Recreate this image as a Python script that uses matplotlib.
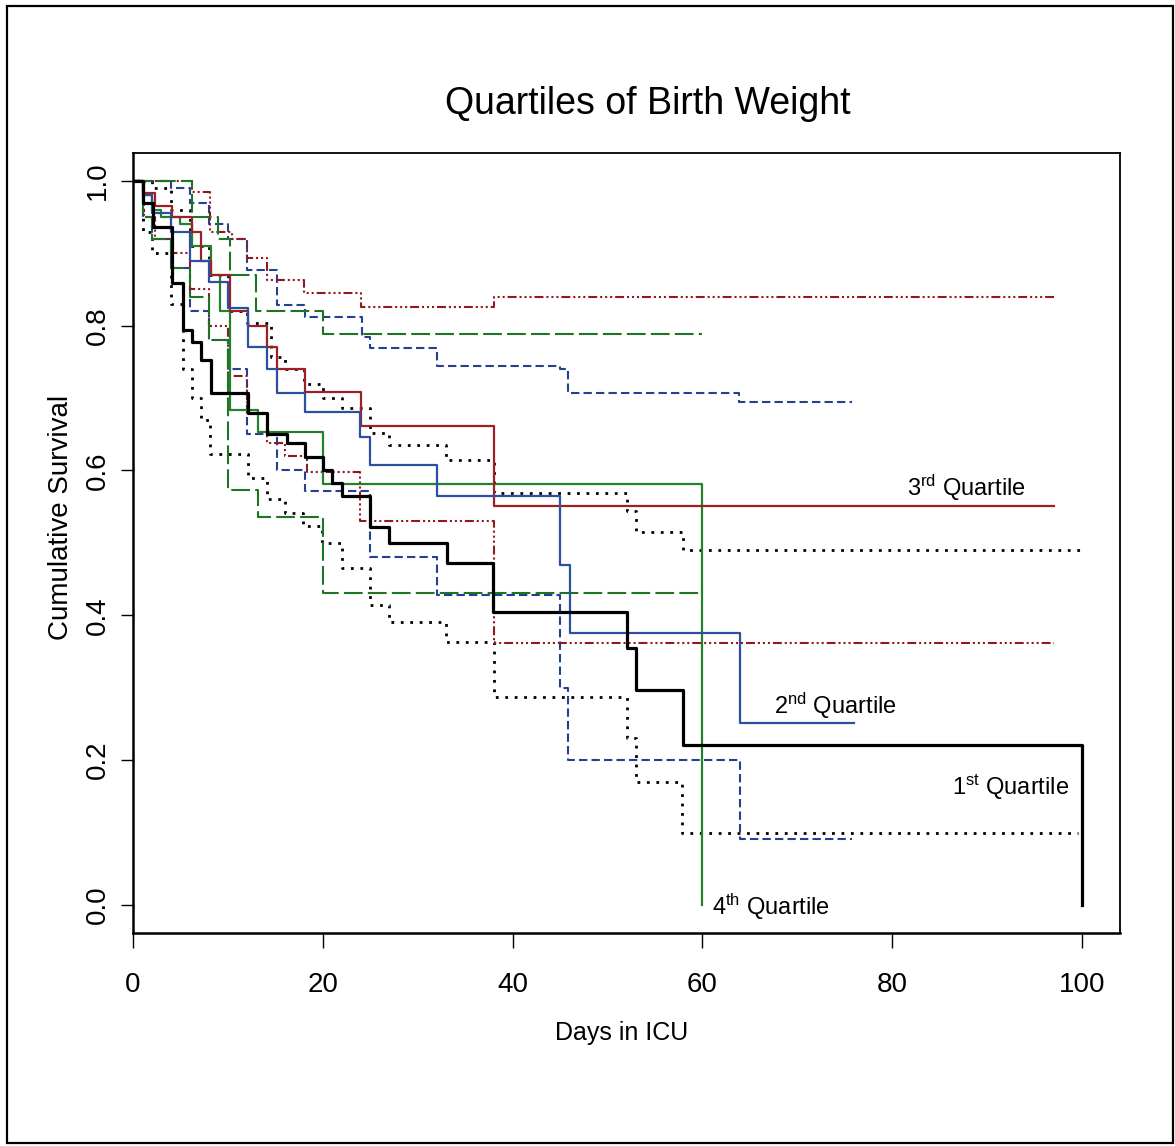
import matplotlib
matplotlib.use("Agg")
import matplotlib.pyplot as plt
from matplotlib.patches import Rectangle

plt.rcParams['font.family'] = ['Liberation Sans', 'DejaVu Sans']
plt.rcParams['mathtext.fontset'] = 'custom'
plt.rcParams['mathtext.rm'] = 'Liberation Sans'
plt.rcParams['mathtext.it'] = 'Liberation Sans'
plt.rcParams['mathtext.bf'] = 'Liberation Sans'

# ---------------- data ----------------
# 1st quartile (black)
q1_t = [0, 1, 2.1, 4.1, 5.3, 6.2, 7.2, 8.2, 12.1, 14.1, 16.2, 18.1, 20, 21, 22, 25, 27, 33.1, 37.9, 52, 53, 58, 100]
q1_s = [1.0, 0.97, 0.936, 0.859, 0.794, 0.778, 0.753, 0.707, 0.68, 0.651, 0.638, 0.619, 0.601, 0.583, 0.565, 0.522, 0.5, 0.472, 0.405, 0.355, 0.296, 0.22, 0.0]
q1_up_t = [0, 2, 4, 6, 8, 10, 12, 14.5, 16, 18, 20, 22, 25, 27, 33, 38, 52, 53, 58, 100]
q1_up_s = [1.0, 0.99, 0.96, 0.91, 0.87, 0.82, 0.804, 0.757, 0.74, 0.72, 0.70, 0.686, 0.652, 0.635, 0.615, 0.569, 0.544, 0.515, 0.49, 0.49]
q1_lo_t = [0, 1, 2, 4, 5.3, 6.2, 7.2, 8.1, 12.1, 14.1, 16, 17.9, 19.9, 22, 25, 27, 33, 38, 52, 53, 57.8, 99.6]
q1_lo_s = [1.0, 0.93, 0.90, 0.83, 0.74, 0.70, 0.67, 0.622, 0.59, 0.56, 0.541, 0.523, 0.50, 0.465, 0.414, 0.391, 0.363, 0.287, 0.23, 0.17, 0.099, 0.099]

# 2nd quartile (blue)
q2_t = [0, 1, 2, 4, 6, 8, 10, 12.1, 14.1, 15.2, 18.1, 23.9, 25, 32, 45, 46, 64, 76]
q2_s = [1.0, 0.98, 0.955, 0.93, 0.89, 0.86, 0.825, 0.77, 0.74, 0.707, 0.681, 0.646, 0.608, 0.564, 0.47, 0.376, 0.251, 0.251]
q2_up_t = [0, 4, 6, 8, 10, 12, 15.2, 18.1, 24.1, 25, 32, 45, 45.8, 63.9, 75.8]
q2_up_s = [1.0, 0.99, 0.97, 0.94, 0.92, 0.877, 0.829, 0.812, 0.785, 0.769, 0.744, 0.74, 0.707, 0.695, 0.695]
q2_lo_t = [0, 1, 2, 4, 6, 8, 10, 12, 15.2, 18.1, 25, 32, 45, 45.8, 64, 75.8]
q2_lo_s = [1.0, 0.95, 0.92, 0.88, 0.82, 0.78, 0.74, 0.65, 0.601, 0.572, 0.48, 0.428, 0.30, 0.20, 0.091, 0.091]

# 3rd quartile (dark red)
q3_t = [0, 1.2, 2.3, 4.1, 6.2, 7.2, 8.2, 10.2, 12.1, 14.1, 15.2, 18.1, 24, 38, 97]
q3_s = [1.0, 0.983, 0.965, 0.95, 0.93, 0.89, 0.87, 0.82, 0.80, 0.77, 0.74, 0.709, 0.662, 0.551, 0.551]
q3_up_t = [0, 6.2, 8.1, 10.4, 12, 14.1, 18, 24, 38, 97]
q3_up_s = [1.0, 0.985, 0.93, 0.92, 0.894, 0.863, 0.845, 0.826, 0.84, 0.84]
q3_lo_t = [0, 1.2, 2.3, 4, 6, 8, 10, 12, 14.1, 16, 18.3, 23.9, 38, 97]
q3_lo_s = [1.0, 0.95, 0.92, 0.90, 0.85, 0.80, 0.73, 0.68, 0.638, 0.62, 0.598, 0.53, 0.362, 0.362]

# 4th quartile (green)
q4_t = [0, 1, 2, 3, 5, 6.2, 8.2, 9.2, 10.2, 13.2, 20, 60]
q4_s = [1.0, 0.98, 0.96, 0.95, 0.94, 0.91, 0.87, 0.82, 0.684, 0.653, 0.581, 0.0]
q4_up_t = [0, 6.2, 9, 10.2, 13, 20, 60]
q4_up_s = [1.0, 0.95, 0.92, 0.87, 0.82, 0.789, 0.789]
q4_lo_t = [0, 1, 2, 4, 6, 8, 10, 13.2, 20, 60]
q4_lo_s = [1.0, 0.95, 0.92, 0.88, 0.84, 0.78, 0.573, 0.536, 0.43, 0.43]

x_ticks = [0, 20, 40, 60, 80, 100]
y_ticks = [0.0, 0.2, 0.4, 0.6, 0.8, 1.0]
y_ticklabels = ['0.0', '0.2', '0.4', '0.6', '0.8', '1.0']

# ---------------- styles ----------------
BLACK = '#000000'
BLUE = '#2c4f9f'
BLUE_D = '#24418f'
RED = '#9e1f24'
RED_D = '#8c1a1f'
GREEN = '#24802a'
GREEN_D = '#1f7424'

fig = plt.figure(figsize=(11.75, 11.46), dpi=100)
ax = fig.add_axes([0.1132, 0.1859, 0.9532 - 0.1132, 0.8668 - 0.1859])

dotted = (0, (1.0, 2.4))
short_dash = (0, (4, 2))
dash_dots = (0, (4.3, 1.4, 1, 1.4, 1, 1.4, 1, 1.4))
long_dash = (0, (9, 2.5))

# confidence bands
ax.step(q1_up_t, q1_up_s, where='post', color=BLACK, lw=2.0, ls=dotted)
ax.step(q1_lo_t, q1_lo_s, where='post', color=BLACK, lw=2.0, ls=dotted)
ax.step(q2_up_t, q2_up_s, where='post', color=BLUE_D, lw=1.5, ls=short_dash)
ax.step(q2_lo_t, q2_lo_s, where='post', color=BLUE_D, lw=1.5, ls=short_dash)
ax.step(q3_up_t, q3_up_s, where='post', color=RED_D, lw=1.5, ls=dash_dots)
ax.step(q3_lo_t, q3_lo_s, where='post', color=RED_D, lw=1.5, ls=dash_dots)
ax.step(q4_up_t, q4_up_s, where='post', color=GREEN_D, lw=1.5, ls=long_dash)
ax.step(q4_lo_t, q4_lo_s, where='post', color=GREEN_D, lw=1.5, ls=long_dash)

# survival curves
ax.step(q4_t, q4_s, where='post', color=GREEN, lw=1.6)
ax.step(q3_t, q3_s, where='post', color=RED, lw=1.6)
ax.step(q2_t, q2_s, where='post', color=BLUE, lw=1.6)
ax.step(q1_t, q1_s, where='post', color=BLACK, lw=2.3)

ax.set_xlim(0, 104)
ax.set_ylim(-0.039, 1.039)
ax.set_xticks(x_ticks)
ax.set_xticklabels([str(v) for v in x_ticks], fontsize=20)
ax.set_yticks(y_ticks)
ax.set_yticklabels(y_ticklabels, fontsize=20, rotation=90, va='center')
ax.tick_params(axis='x', direction='out', length=11, width=1, pad=17)
ax.tick_params(axis='y', direction='out', length=9, width=1, pad=7)
for s in ax.spines.values():
    s.set_linewidth(1.3)
ax.spines['bottom'].set_linewidth(1.8)
ax.spines['left'].set_linewidth(1.8)

ax.set_xlabel('Days in ICU', fontsize=18)
ax.xaxis.label.set_va('center')
ax.xaxis.set_label_coords((622 - 133) / 987, (933 - 1033) / 780.3)
ax.set_ylabel('Cumulative Survival', fontsize=20)
ax.yaxis.label.set_va('center')
ax.yaxis.label.set_ha('center')
ax.yaxis.set_label_coords((61 - 133) / 987, (933 - 517) / 780.3)

fig.text(648 / 1175, 1 - 104 / 1146, 'Quartiles of Birth Weight', fontsize=27,
         ha='center', va='center')

lab_fs = 17
ax.text(81.6, 0.565, r'3$^{\rm rd}$ Quartile', fontsize=lab_fs, va='baseline', ha='left')
ax.text(67.5, 0.264, r'2$^{\rm nd}$ Quartile', fontsize=lab_fs, va='baseline', ha='left')
ax.text(86.3, 0.151, r'1$^{\rm st}$ Quartile', fontsize=lab_fs, va='baseline', ha='left')
ax.text(61.0, -0.014, r'4$^{\rm th}$ Quartile', fontsize=lab_fs, va='baseline', ha='left')

# outer frame of the figure
fig.patches.append(Rectangle((7 / 1175, 1 - 1143 / 1146), (1173 - 7) / 1175, (1143 - 6) / 1146,
                             transform=fig.transFigure, fill=False, edgecolor='black', lw=1.6))

fig.savefig('out.png', dpi=100, facecolor='white')
